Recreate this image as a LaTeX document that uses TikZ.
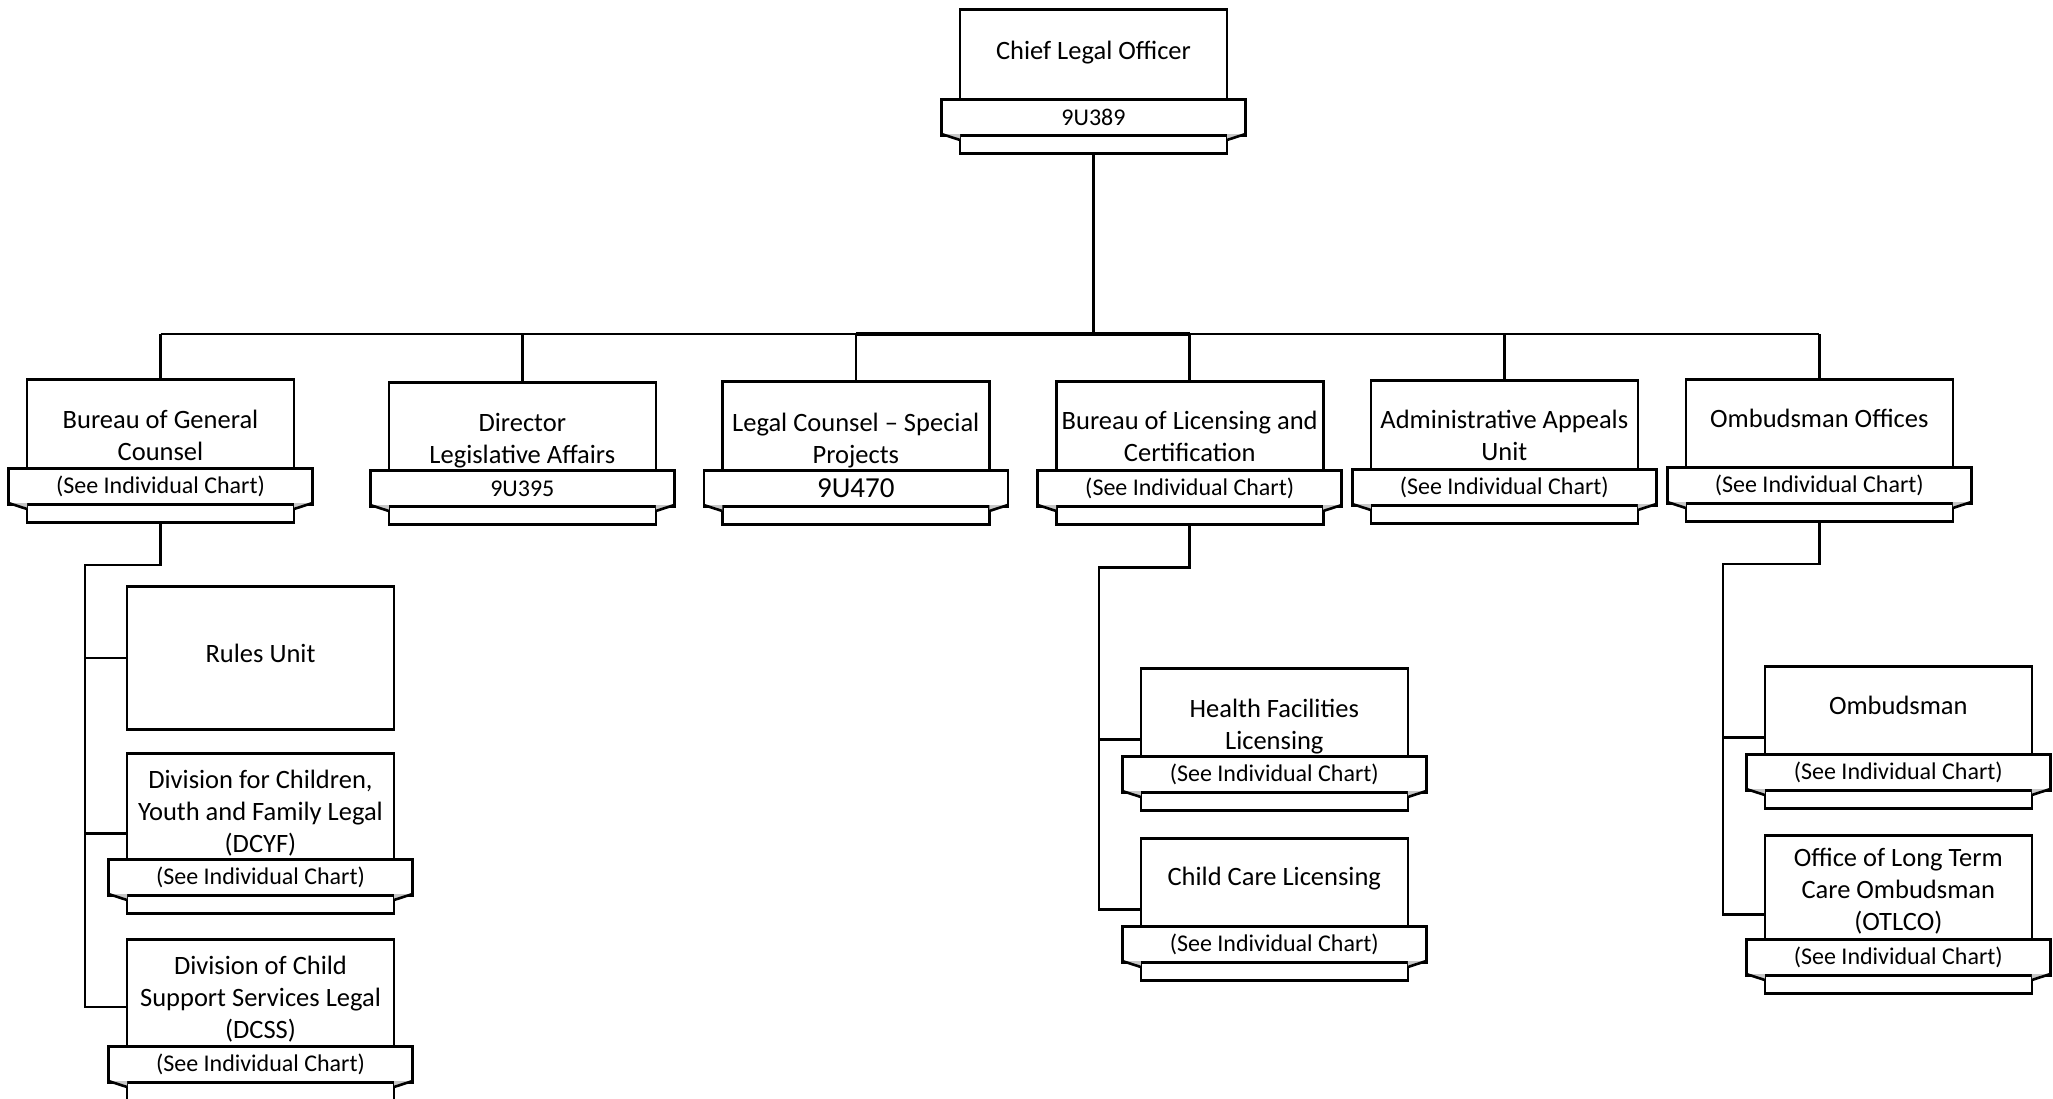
\documentclass[tikz,border=0pt]{standalone}
\usepackage{fontspec}
\setmainfont{Carlito}
\usetikzlibrary{calc}
\tikzset{
  conn/.style={line width=2.6pt, draw=black},
  unitbox/.style={draw=black, fill=white, line width=2.6pt, minimum width=267pt, inner sep=0pt},
  stripbox/.style={draw=black, fill=white, line width=2.6pt, minimum width=267pt, minimum height=18pt, inner sep=0pt},
  bannerbox/.style={draw=black, fill=white, line width=2.6pt, minimum width=304pt, minimum height=36pt, inner sep=0pt, font=\fontsize{24}{28}\selectfont},
  unittext/.style={align=center, inner sep=0pt, font=\fontsize{26.5}{32}\selectfont},
  foldgray/.style={fill=black!22},
  foldline/.style={line width=2.6pt, draw=black},
}
\newcommand\orgunit[7]{%
  \pgfmathsetmacro\uH{#4-#3+2}%
  \pgfmathsetmacro\uBB{#4+36}%
  \pgfmathsetmacro\uL{#2-133.5}%
  \pgfmathsetmacro\uR{#2+133.5}%
  \pgfmathsetmacro\uBL{#2-152}%
  \pgfmathsetmacro\uBR{#2+152}%
  \node[unitbox, minimum height=\uH pt, anchor=north] (#1) at (#2,#3) {};
  \node[stripbox, anchor=north] (#1s) at (#2,\uBB) {};
  \node[bannerbox, anchor=north] (#1b) at (#2,#4) {#7};
  \fill[foldgray] (\uBL,\uBB) -- (\uL,\uBB+6) -- (\uL,\uBB) -- cycle;
  \fill[foldgray] (\uBR,\uBB) -- (\uR,\uBB+6) -- (\uR,\uBB) -- cycle;
  \draw[foldline] (\uBL,\uBB) -- (\uL,\uBB+6);
  \draw[foldline] (\uBR,\uBB) -- (\uR,\uBB+6);
  \node[unittext] (#1t) at (#2,#5) {#6};
}
\begin{document}
\begin{tikzpicture}[x=1pt,y=-1pt]
\useasboundingbox (0,0) rectangle (2053,1098);
\clip (0,0) rectangle (2053,1098);

\orgunit{chief}{1093.5}{8}{98}{52.5}{Chief Legal Officer}{9U389}
\orgunit{bgc}{160.5}{378}{467}{435.5}{Bureau of General\\Counsel}{(See Individual Chart)}
\orgunit{dir}{522.3}{381}{469}{440.5}{Director\\Legislative Affairs}{9U395}
\orgunit{legal}{855.8}{380}{469}{440.5}{Legal Counsel – Special\\Projects}{\fontsize{29}{32}\selectfont 9U470}
\orgunit{lic}{1189.7}{380}{469}{436.5}{Bureau of Licensing and\\Certification}{(See Individual Chart)}
\orgunit{adm}{1504.3}{379}{468}{435.5}{Administrative Appeals\\Unit}{(See Individual Chart)}
\orgunit{omboff}{1819.3}{378}{466}{418.5}{Ombudsman Offices}{(See Individual Chart)}

\node[unitbox, minimum height=143pt, anchor=north] (rules) at (260.5,585) {};
\node[unittext] (rulest) at (260.5,653.5) {Rules Unit};
\orgunit{dcyf}{260.5}{752}{858}{813.3}{Division for Children,\\Youth and Family Legal\\(DCYF)}{(See Individual Chart)}
\orgunit{dcss}{260.5}{938}{1045}{999}{Division of Child\\Support Services Legal\\(DCSS)}{(See Individual Chart)}

\orgunit{health}{1274.3}{667}{755}{726.3}{Health Facilities\\Licensing}{(See Individual Chart)}
\orgunit{child}{1274.3}{837}{925}{879}{Child Care Licensing}{(See Individual Chart)}

\orgunit{ombud}{1898.3}{665}{753}{705.5}{Ombudsman}{(See Individual Chart)}
\orgunit{otlco}{1898.3}{834}{938}{891.5}{Office of Long Term\\Care Ombudsman\\(OTLCO)}{(See Individual Chart)}

% top bus
\coordinate (bus) at (0,334);
\draw[conn] (chiefs.south) -- (chiefs.south |- bus);
\draw[conn] (bgc.north |- bus) -- (omboff.north |- bus);
\draw[conn, line width=4.2pt] (legal.north |- bus) -- (lic.north |- bus);
\foreach \u in {bgc,dir,legal,lic,adm,omboff}
  \draw[conn] (\u.north |- bus) -- (\u.north);

% Bureau of General Counsel subordinates
\coordinate (bgcj) at (85,565);
\coordinate (ydcss) at (0,1007);
\coordinate (dcssT) at (dcss.west |- ydcss);
\coordinate (dcyfT) at ($(dcyf.north west)!.5!(dcyfs.south west)$);
\draw[conn] (bgcs.south) |- (bgcj) |- (dcssT);
\draw[conn] (rules.west -| bgcj) -- (rules.west);
\draw[conn] (dcyfT -| bgcj) -- (dcyfT);

% Licensing subordinates
\coordinate (licj) at (1099,567.7);
\coordinate (healthT) at ($(health.north west)!.5!(healths.south west)$);
\coordinate (childT) at ($(child.north west)!.5!(childs.south west)$);
\draw[conn] (lics.south) |- (licj) |- (childT);
\draw[conn] (healthT -| licj) -- (healthT);

% Ombudsman subordinates
\coordinate (ombj) at (1723,564);
\coordinate (ombudT) at ($(ombud.north west)!.5!(ombuds.south west)$);
\coordinate (otlcoT) at ($(otlco.north west)!.5!(otlcos.south west)$);
\draw[conn] (omboffs.south) |- (ombj) |- (otlcoT);
\draw[conn] (ombudT -| ombj) -- (ombudT);
\end{tikzpicture}
\end{document}
